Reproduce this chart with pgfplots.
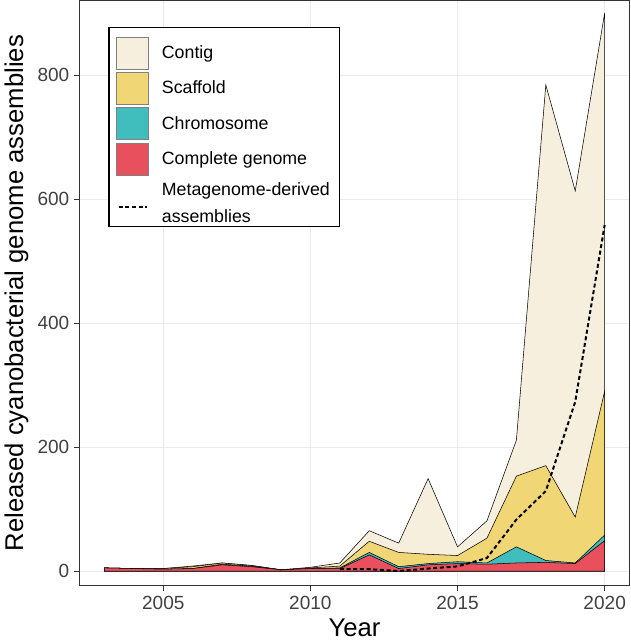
\documentclass[border=0pt]{standalone}
\usepackage{pgfplots}
\pgfplotsset{compat=1.18}
\usepackage{pgfplotstable}
\usepackage{fontspec}
\setmainfont{Liberation Sans}
\definecolor{ccontig}{HTML}{F7EFDE}
\definecolor{cscaff}{HTML}{F0D675}
\definecolor{cchrom}{HTML}{40BDBD}
\definecolor{ccomp}{HTML}{E8505D}
\pgfplotstableread{
year complete chrom scaffold contig
2003 5 0 0 0
2004 4 0 0 0
2005 3 0 1 0
2006 4 0 3 1
2007 10 1 2 0
2008 7 1 1 0
2009 2 0 0 0
2010 4 0 1 1
2011 4 1 3 5
2012 26 4 18 17
2013 4 3 23 15
2014 10 2 15 122
2015 12 3 10 14
2016 11 2 40 28
2017 13 26 114 58
2018 14 3 153 614
2019 12 1 74 526
2020 49 9 232 610
}\assemblies
\pgfplotstableread{
year meta
2011 3
2012 3
2013 0
2014 4
2015 7.5
2016 21
2017 83
2018 129
2019 273
2020 558
}\metag
\begin{document}
\begin{tikzpicture}
\begin{axis}[
  scale only axis, width=411.75pt, height=438pt,
  xmin=2002.15, xmax=2020.85, ymin=-24, ymax=920,
  xtick={2005,2010,2015,2020}, ytick={0,200,400,600,800},
  /pgf/number format/assume math mode=true,
  xticklabel style={/pgf/number format/1000 sep={}},
  tick label style={font=\fontsize{14.25}{17}\selectfont, color=black!75},
  grid=major, major grid style={color=black!8, line width=0.6pt},
  axis line style={color=black!80, line width=0.8pt},
  tick style={color=black!80, line width=0.6pt},
  tick align=outside, tick pos=left, major tick length=4pt,
  xlabel={Year}, ylabel={Released cyanobacterial genome assemblies},
  label style={font=\fontsize{19.2}{23}\selectfont},
  legend cell align=left,
  legend style={at={(rel axis cs:0.0528,0.955)}, anchor=north west,
    draw=black, line width=0.8pt, font=\fontsize{13.3}{16}\selectfont,
    row sep=2pt, inner xsep=5pt, inner ysep=7pt},
]
\addlegendimage{legend image code/.code={\draw[fill=ccontig, draw=black!50, line width=0.4pt] (0pt,-12pt) rectangle (24pt,12pt); \path (32pt,0pt);}}
\addlegendentry{Contig}
\addlegendimage{legend image code/.code={\draw[fill=cscaff, draw=black!50, line width=0.4pt] (0pt,-12pt) rectangle (24pt,12pt); \path (32pt,0pt);}}
\addlegendentry{Scaffold}
\addlegendimage{legend image code/.code={\draw[fill=cchrom, draw=black!50, line width=0.4pt] (0pt,-12pt) rectangle (24pt,12pt); \path (32pt,0pt);}}
\addlegendentry{Chromosome}
\addlegendimage{legend image code/.code={\draw[fill=ccomp, draw=black!50, line width=0.4pt] (0pt,-12pt) rectangle (24pt,12pt); \path (32pt,0pt);}}
\addlegendentry{Complete genome}
\addlegendimage{legend image code/.code={\draw[black, line width=1.5pt, dash pattern=on 3pt off 2pt] (2pt,-7pt) -- (23pt,-7pt); \path (32pt,-7pt);}}
\addlegendentry{\begin{tabular}{@{}l@{}}Metagenome-derived\\[4pt]assemblies\rule[-9pt]{0pt}{9pt}\end{tabular}}
\addplot[forget plot, fill=ccontig, draw=black, line width=0.4pt] table[x=year, y expr=\thisrow{complete}+\thisrow{chrom}+\thisrow{scaffold}+\thisrow{contig}] {\assemblies} \closedcycle;
\addplot[forget plot, fill=cscaff, draw=black, line width=0.4pt] table[x=year, y expr=\thisrow{complete}+\thisrow{chrom}+\thisrow{scaffold}] {\assemblies} \closedcycle;
\addplot[forget plot, fill=cchrom, draw=black, line width=0.4pt] table[x=year, y expr=\thisrow{complete}+\thisrow{chrom}] {\assemblies} \closedcycle;
\addplot[forget plot, fill=ccomp, draw=black, line width=0.4pt] table[x=year, y=complete] {\assemblies} \closedcycle;
\addplot[forget plot, black, line width=1.5pt, dash pattern=on 3pt off 2pt] table[x=year, y=meta] {\metag};
\end{axis}
\end{tikzpicture}
\end{document}
